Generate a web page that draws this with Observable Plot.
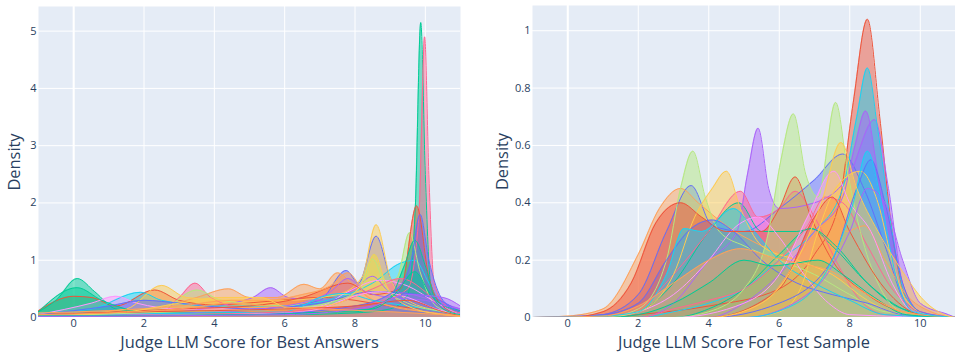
<!DOCTYPE html>
<html><head><meta charset="utf-8">
<script src="https://cdn.jsdelivr.net/npm/d3@7"></script>
<script src="https://cdn.jsdelivr.net/npm/@observablehq/plot@0.6"></script>
<style>
body{margin:0;background:#fff;font-family:"Open Sans",sans-serif;}
#wrap{display:flex;width:955px;height:352px;}
</style></head><body><div id="wrap"></div>
<script>
const palette = ["#636efa","#EF553B","#00cc96","#ab63fa","#FFA15A","#19d3f3","#FF6692","#B6E880","#FF97FF","#FECB52"];
const xTicks = [0,2,4,6,8,10];
const bestYTicks = [0,1,2,3,4,5];
const testYTicks = [0,0.2,0.4,0.6,0.8,1];
const bestTitle = "Judge LLM Score for Best Answers";
const testTitle = "Judge LLM Score For Test Sample";

// Left panel: density curves, [score, density]
const best00 = [[-1,0.05],[2,0.08],[5,0.12],[7,0.3],[7.75,0.82],[8.1,0.6],[8.6,1.42],[9,0.7],[9.5,0.3],[10.2,0.15],[11,0.05]];
const best01 = [[-1,0.12],[0,0.37],[0.5,0.35],[1.2,0.2],[2.3,0.48],[3,0.3],[4,0.22],[5.5,0.28],[7,0.35],[8,0.3],[9,0.2],[10,0.15],[11,0.05]];
const best02 = [[-1,0.1],[-0.5,0.3],[0.1,0.68],[0.6,0.45],[1.2,0.15],[3,0.05],[6,0.05],[8,0.08],[9,0.15],[9.5,0.4],[9.72,2.0],[9.87,5.15],[10,2.5],[10.15,0.6],[10.5,0.2],[11,0.1]];
const best03 = [[-1,0.03],[3,0.1],[4.5,0.25],[5.1,0.35],[5.6,0.52],[6.1,0.35],[7,0.3],[8,0.5],[8.5,0.72],[9,0.45],[9.5,0.42],[10.2,0.3],[11,0.15]];
const best04 = [[-1,0.05],[2,0.12],[3.5,0.35],[4.4,0.5],[5,0.35],[5.8,0.35],[6.55,0.58],[7,0.5],[7.5,0.78],[7.9,0.6],[8.5,0.3],[9.5,0.15],[11,0.03]];
const best05 = [[-1,0.08],[0.5,0.15],[1.9,0.44],[2.5,0.3],[4,0.2],[6,0.2],[7.5,0.35],[8.5,0.6],[9.3,0.95],[9.7,1.0],[10.1,0.6],[10.5,0.2],[11,0.05]];
const best06 = [[-1,0.03],[2.5,0.1],[3,0.35],[3.45,0.6],[3.9,0.35],[5,0.15],[7,0.15],[8.5,0.25],[9.5,0.5],[9.82,1.8],[9.98,4.9],[10.1,2.5],[10.25,0.6],[10.6,0.2],[11,0.08]];
const best07 = [[-1,0.02],[2.5,0.15],[3.5,0.48],[4.2,0.3],[6,0.2],[7.5,0.4],[8.1,0.4],[8.55,1.1],[8.9,0.6],[9.2,0.7],[9.55,1.48],[9.85,0.8],[10.3,0.2],[11,0.05]];
const best08 = [[-1,0.05],[0.5,0.25],[1.2,0.37],[1.8,0.25],[3,0.15],[5,0.15],[7,0.2],[7.8,0.45],[8.7,0.65],[9.5,0.55],[10.2,0.3],[10.8,0.1],[11,0.05]];
const best09 = [[-1,0.02],[1.5,0.15],[2.5,0.56],[3.2,0.35],[4.5,0.3],[6,0.3],[7.5,0.4],[8.2,0.7],[8.6,1.62],[9,0.7],[9.5,0.3],[10.5,0.1],[11,0.03]];
const best10 = [[-1,0.05],[1,0.2],[2,0.3],[3,0.25],[5,0.15],[7,0.25],[8.5,0.45],[9.5,0.42],[10.2,0.35],[11,0.1]];
const best11 = [[-1,0.03],[3,0.15],[5,0.2],[6.5,0.35],[7.8,0.6],[8.5,0.4],[9.3,0.5],[9.75,1.95],[10.1,0.7],[10.5,0.2],[11,0.05]];
const best12 = [[-1,0.1],[0.1,0.52],[0.8,0.3],[2,0.1],[5,0.08],[8,0.1],[9,0.35],[9.4,0.9],[9.7,1.35],[10,0.9],[10.3,0.3],[11,0.12]];
const best13 = [[-1,0.02],[4,0.1],[6,0.2],[7.3,0.45],[7.8,0.68],[8.3,0.45],[9,0.35],[10,0.3],[10.6,0.2],[11,0.15]];
const best14 = [[-1,0.08],[1,0.12],[3,0.2],[4.5,0.3],[5.5,0.3],[6.5,0.4],[7.3,0.55],[7.8,0.78],[8.3,0.4],[9,0.2],[10,0.1],[11,0.02]];
const best15 = [[-1,0.05],[4,0.08],[6,0.1],[6.5,0.2],[7,0.35],[7.7,0.42],[8.5,0.3],[9.5,0.2],[10.5,0.1],[11,0.05]];
const best16 = [[-1,0.02],[3,0.05],[6,0.1],[7.5,0.25],[8.5,0.5],[9.3,0.68],[10,0.45],[10.5,0.15],[11,0.05]];
const best17 = [[-1,0.02],[3,0.1],[6,0.15],[7.5,0.3],[8.1,0.5],[8.5,1.02],[8.9,0.5],[9.5,0.25],[10.5,0.1],[11,0.03]];
const best18 = [[-1,0.03],[4,0.05],[6,0.08],[7,0.15],[8,0.38],[8.7,0.45],[9.5,0.35],[10.3,0.15],[11,0.05]];
const best19 = [[-1,0.03],[1.5,0.1],[3,0.25],[4.2,0.35],[5.3,0.35],[6.2,0.15],[7.5,0.25],[8.2,0.6],[8.55,1.1],[8.9,0.55],[9.5,0.2],[10.5,0.05],[11,0.02]];
const best20 = [[-1,0.02],[5,0.05],[8,0.2],[9.2,0.5],[9.6,1.0],[9.85,1.8],[10.1,1.0],[10.5,0.3],[11,0.1]];
const best21 = [[-1,0.05],[2,0.1],[4,0.12],[6,0.15],[8,0.2],[9.5,0.3],[10.5,0.1],[11,0.03]];
const best22 = [[-1,0.03],[5,0.05],[8.5,0.15],[9.2,0.45],[9.7,0.8],[10.1,0.45],[10.5,0.15],[11,0.05]];
const best23 = [[-1,0.02],[6,0.05],[8.5,0.2],[9.5,0.4],[10.5,0.35],[11,0.2]];
const best24 = [[-1,0.05],[1,0.08],[3,0.15],[4.5,0.25],[5.5,0.2],[7,0.15],[9,0.1],[11,0.03]];

// Right panel
const test00 = [[-1,0],[0,0],[1,0.01],[2,0.08],[2.8,0.3],[3.5,0.46],[4.1,0.32],[5,0.3],[6,0.38],[7,0.48],[7.8,0.57],[8.4,0.45],[9,0.25],[9.6,0.05],[10.5,0],[11,0]];
const test01 = [[-1,0],[1,0],[2,0.01],[4,0.04],[6,0.1],[7,0.22],[7.7,0.4],[8.1,0.75],[8.5,1.04],[8.85,0.7],[9.2,0.3],[9.6,0.07],[10.2,0.01],[11,0]];
const test02 = [[-1,0],[1,0],[2,0.02],[3,0.12],[4,0.3],[4.85,0.4],[5.5,0.3],[6.5,0.3],[6.9,0.31],[7.5,0.25],[8.5,0.12],[9.5,0.03],[10.5,0],[11,0]];
const test03 = [[-1,0],[2,0],[3,0.05],[4,0.2],[4.8,0.3],[5.1,0.5],[5.4,0.66],[5.7,0.45],[6,0.38],[7,0.4],[8,0.5],[8.7,0.69],[9.1,0.45],[9.5,0.12],[10,0.02],[11,0]];
const test04 = [[-1,0],[0,0.005],[1,0.03],[2,0.22],[2.6,0.38],[3.2,0.45],[3.7,0.4],[4.5,0.32],[5.5,0.25],[6.5,0.2],[7.5,0.15],[8.5,0.08],[9.5,0.02],[10.5,0],[11,0]];
const test05 = [[-1,0],[2,0],[3,0.02],[4,0.05],[5,0.1],[6,0.2],[7,0.3],[7.8,0.45],[8.2,0.7],[8.5,0.87],[8.8,0.65],[9.2,0.3],[9.6,0.07],[10.2,0.01],[11,0]];
const test06 = [[-1,0],[1,0],[2,0.03],[3,0.15],[4,0.3],[4.9,0.44],[5.4,0.35],[6,0.38],[6.45,0.44],[7,0.35],[7.6,0.2],[8.3,0.06],[9,0.01],[11,0]];
const test07 = [[-1,0],[1,0],[2,0.03],[2.8,0.2],[3.2,0.45],[3.55,0.58],[3.9,0.42],[4.3,0.3],[5,0.25],[6,0.2],[7,0.15],[8,0.08],[9,0.02],[11,0]];
const test08 = [[-1,0],[1,0],[2,0.02],[3,0.08],[4,0.2],[4.8,0.32],[5.4,0.35],[6,0.28],[6.7,0.15],[7.4,0.05],[8,0.01],[11,0]];
const test09 = [[-1,0],[1,0],[2,0.02],[3,0.15],[3.6,0.35],[4.1,0.45],[4.5,0.51],[4.9,0.38],[5.5,0.25],[6.5,0.2],[7.5,0.15],[8.5,0.06],[9.5,0.01],[11,0]];
const test10 = [[-1,0],[1,0.01],[2,0.05],[2.8,0.2],[3.5,0.31],[4.1,0.34],[4.7,0.3],[5.5,0.2],[6.5,0.12],[7.5,0.08],[8.5,0.05],[9.5,0.01],[11,0]];
const test11 = [[-1,0],[0,0],[1,0.02],[1.8,0.12],[2.5,0.33],[3.2,0.4],[3.8,0.35],[4.5,0.3],[5.5,0.3],[6,0.38],[6.45,0.49],[6.9,0.35],[7.5,0.2],[8.5,0.08],[9.5,0.02],[11,0]];
const test12 = [[-1,0],[3,0],[4,0.03],[5,0.1],[6,0.22],[6.9,0.31],[7.6,0.25],[8.5,0.12],[9.5,0.03],[11,0]];
const test13 = [[-1,0],[4,0],[5,0.05],[6,0.15],[7,0.3],[7.8,0.42],[8.15,0.6],[8.45,0.72],[8.8,0.5],[9.3,0.15],[9.8,0.02],[11,0]];
const test14 = [[-1,0],[4,0],[5,0.02],[5.8,0.08],[6.5,0.2],[7.1,0.3],[7.6,0.35],[7.9,0.3],[8.4,0.32],[9,0.2],[9.6,0.08],[10.3,0.02],[11,0]];
const test15 = [[-1,0],[1,0.005],[2,0.02],[2.8,0.15],[3.3,0.31],[3.8,0.3],[4.7,0.38],[5.3,0.3],[6,0.2],[7,0.12],[8,0.06],[9,0.01],[11,0]];
const test16 = [[-1,0],[2,0],[3,0.03],[4,0.06],[5,0.1],[6,0.2],[6.8,0.32],[7.3,0.42],[7.8,0.4],[8.5,0.25],[9.2,0.1],[10,0.02],[11,0]];
const test17 = [[-1,0],[3,0],[4,0.02],[5,0.1],[5.7,0.3],[6.05,0.55],[6.4,0.71],[6.75,0.5],[7.1,0.42],[7.6,0.75],[7.95,0.5],[8.3,0.3],[8.8,0.12],[9.5,0.02],[11,0]];
const test18 = [[-1,0],[3,0],[5,0.05],[6,0.15],[6.8,0.35],[7.55,0.51],[8,0.4],[8.6,0.3],[9.2,0.12],[9.8,0.02],[11,0]];
const test19 = [[-1,0],[5,0],[6,0.02],[6.6,0.1],[7.1,0.3],[7.6,0.45],[8.3,0.51],[8.8,0.4],[9.2,0.2],[9.6,0.06],[10.2,0.01],[11,0]];
const test20 = [[-1,0],[4,0],[6,0.05],[7.5,0.2],[8.2,0.45],[8.6,0.55],[9,0.4],[9.5,0.12],[10,0.02],[11,0]];
const test21 = [[-1,0],[4,0],[6,0.1],[7,0.35],[7.5,0.42],[8,0.3],[9,0.1],[10,0.01],[11,0]];
const test22 = [[-1,0],[1,0],[2,0.01],[3,0.05],[4,0.12],[5,0.2],[5.8,0.18],[6.5,0.19],[7.1,0.2],[7.8,0.15],[8.7,0.07],[9.6,0.01],[11,0]];
const test23 = [[-1,0],[5,0],[7,0.1],[8,0.3],[8.5,0.45],[9,0.4],[9.5,0.2],[10,0.05],[10.8,0.01],[11,0]];
const test24 = [[-1,0],[1,0.005],[2,0.04],[3,0.12],[4,0.2],[4.9,0.24],[5.8,0.21],[6.5,0.19],[7.5,0.16],[8.5,0.08],[9.5,0.02],[11,0]];
const test25 = [[-1,0],[5,0],[6.5,0.05],[7.5,0.2],[8.1,0.4],[8.5,0.58],[8.9,0.4],[9.3,0.15],[9.8,0.02],[11,0]];
const test29 = [[-1,0],[4,0],[5.5,0.05],[6.5,0.2],[7.2,0.4],[7.75,0.61],[8.2,0.45],[8.8,0.3],[9.5,0.16],[10.1,0.06],[10.8,0.005],[11,0]];

const bestTraces = [best00,best01,best02,best03,best04,best05,best06,best07,best08,best09,best10,best11,best12,best13,best14,best15,best16,best17,best18,best19,best20,best21,best22,best23,best24].map((p,i)=>[i,p]);
const testTraces = [[0,test00],[1,test01],[2,test02],[3,test03],[4,test04],[5,test05],[6,test06],[7,test07],[8,test08],[9,test09],[10,test10],[11,test11],[12,test12],[13,test13],[14,test14],[15,test15],[16,test16],[17,test17],[18,test18],[19,test19],[20,test20],[21,test21],[22,test22],[23,test23],[24,test24],[25,test25],[29,test29]];

function panel(traces, o){
  const rows = traces.flatMap(([id, pts]) => pts.map(([x,y]) => ({trace:id, x, y})));
  return Plot.plot({
    width:o.width, height:352, marginLeft:o.ml, marginRight:o.mr, marginTop:o.mt, marginBottom:35,
    style:{fontFamily:'"Open Sans", sans-serif', fontSize:"11px", color:"#2a3f5f", background:"white"},
    x:{domain:[-1,11]}, y:{domain:[0,o.ymax]},
    color:{type:"ordinal", domain:d3.range(10), range:palette},
    marks:[
      Plot.frame({fill:"#e5ecf6"}),
      Plot.gridX(xTicks,{stroke:"white", strokeOpacity:1}),
      Plot.gridY(o.yTicks,{stroke:"white", strokeOpacity:1}),
      Plot.ruleX([0],{stroke:"white", strokeWidth:2}),
      Plot.area(rows,{x1:"x", y1:0, y2:"y", z:"trace", fill:d=>d.trace%10, fillOpacity:0.5, curve:"monotone-x", clip:true}),
      Plot.line(rows,{x:"x", y:"y", z:"trace", stroke:d=>d.trace%10, strokeWidth:1, curve:"monotone-x", clip:true}),
      Plot.axisX(xTicks,{tickSize:0, tickPadding:2, label:null, fontSize:11}),
      Plot.axisY(o.yTicks,{tickSize:0, tickPadding:2, label:null, fontSize:11, tickFormat:d=>String(d)}),
      Plot.text([o.xTitle],{text:d=>d, frameAnchor:"bottom", dy:25, fontSize:16.4, fill:"#2a3f5f", textAnchor:"middle", lineAnchor:"middle"}),
      Plot.text(["Density"],{text:d=>d, frameAnchor:"left", dx:o.dx, rotate:-90, fontSize:16.4, fill:"#2a3f5f", textAnchor:"middle", lineAnchor:"middle"})
    ]
  });
}
const wrap = document.getElementById("wrap");
wrap.append(panel(bestTraces,{width:480, ml:38, mr:20, mt:6, ymax:5.43, yTicks:bestYTicks, xTitle:bestTitle, dx:-24}));
wrap.append(panel(testTraces,{width:475, ml:52, mr:0, mt:5, ymax:1.088, yTicks:testYTicks, xTitle:testTitle, dx:-30}));
</script></body></html>
